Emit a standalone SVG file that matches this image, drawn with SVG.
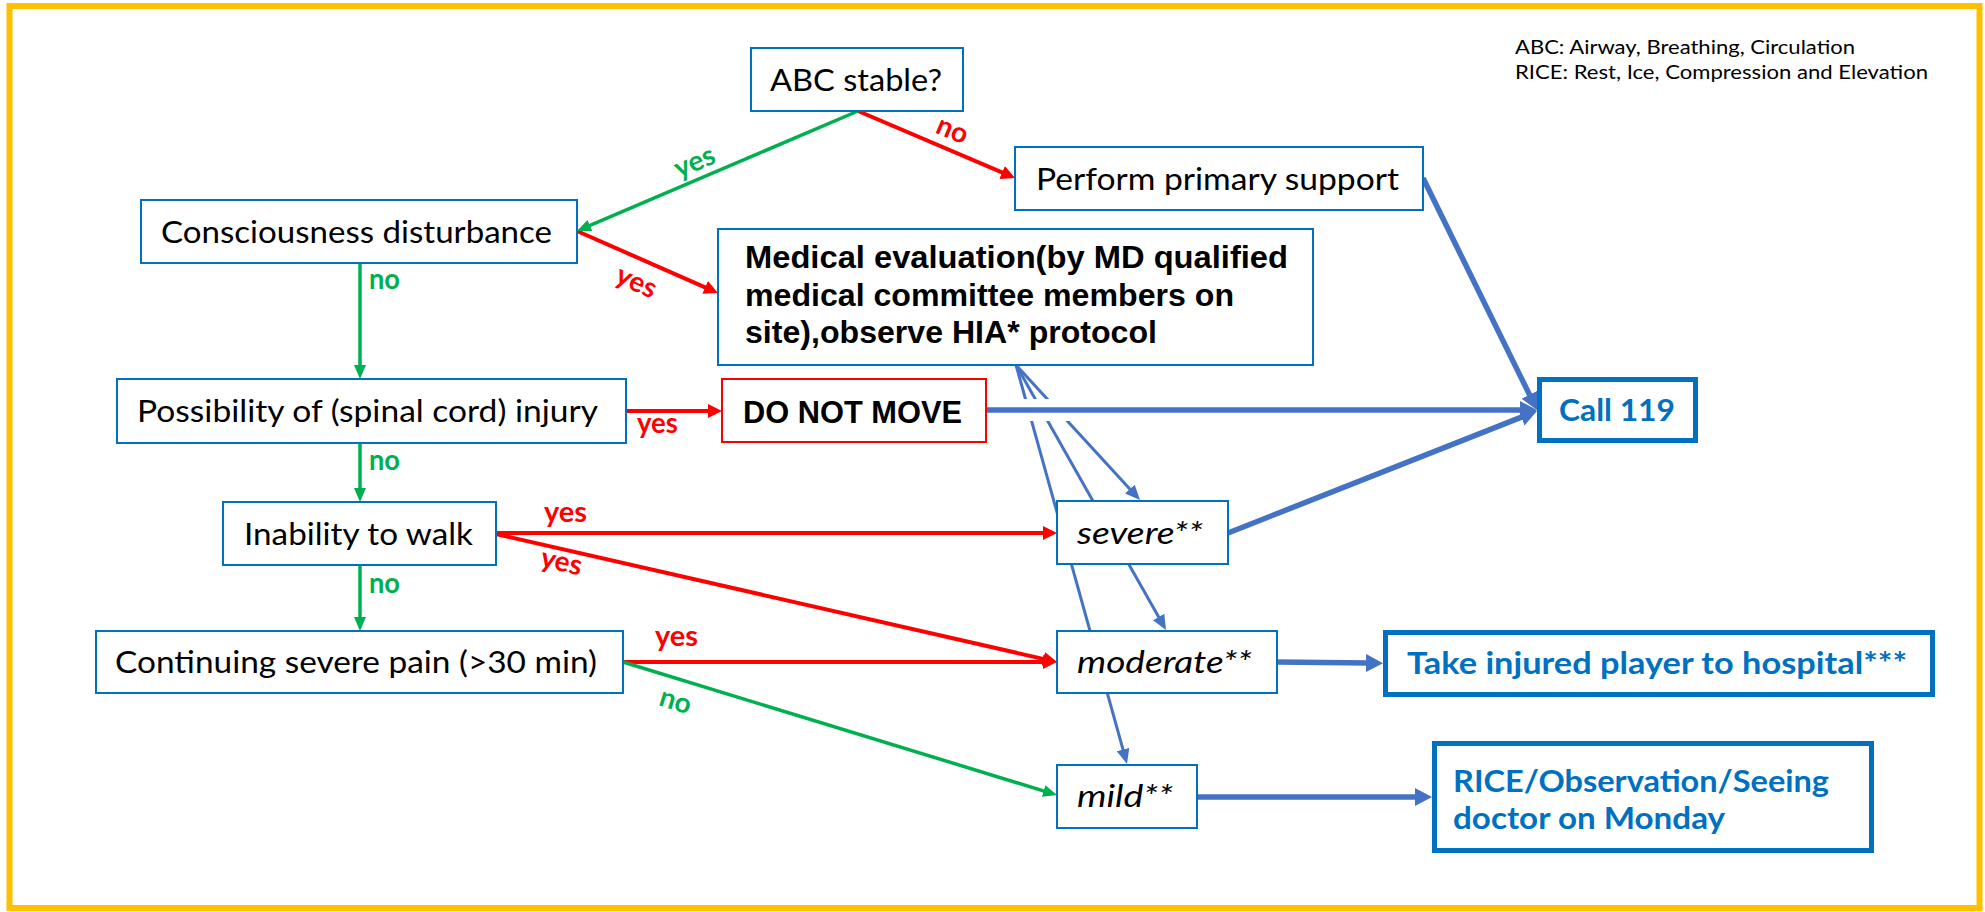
<svg xmlns="http://www.w3.org/2000/svg" width="1985" height="912" viewBox="0 0 1985 912">
<defs>
<style>
.box{fill:#fff;stroke:#0070C0;stroke-width:2}
.rbox{fill:#fff;stroke:#FF0000;stroke-width:2}
.tbox{fill:#fff;stroke:#0070C0;stroke-width:5}
.t{font-family:Lato,"Liberation Sans",sans-serif;font-size:31px;fill:#000}
.ti{font-family:Lato,"Liberation Sans",sans-serif;font-size:31px;font-style:italic;fill:#000}
.tb{font-family:"Liberation Sans","Noto Sans CJK JP",sans-serif;font-size:32px;font-weight:bold;fill:#000}
.tblue{font-family:Lato,"Liberation Sans",sans-serif;font-size:31px;font-weight:bold;fill:#0070C0}
.lg{font-family:Lato,"Liberation Sans",sans-serif;font-size:19.5px;fill:#000}
.lab{font-family:Lato,"Liberation Sans",sans-serif;font-size:28px;font-weight:bold}
.red{fill:#FF0000}
.grn{fill:#00B050}
.cr{stroke:#FF0000;stroke-width:4;fill:none}
.cg{stroke:#00B050;stroke-width:3.5;fill:none}
.cb{stroke:#4472C4;stroke-width:3;fill:none}
.cB{stroke:#4472C4;stroke-width:5.5;fill:none}
</style>
<marker id="aR" markerUnits="userSpaceOnUse" markerWidth="14" markerHeight="14" viewBox="0 0 14 14" refX="3" refY="7" orient="auto"><path d="M0,0 L14,7 L0,14 z" fill="#FF0000"/></marker>
<marker id="aG" markerUnits="userSpaceOnUse" markerWidth="14" markerHeight="12" viewBox="0 0 14 12" refX="3" refY="6" orient="auto"><path d="M0,0 L14,6 L0,12 z" fill="#00B050"/></marker>
<marker id="aB" markerUnits="userSpaceOnUse" markerWidth="15" markerHeight="13" viewBox="0 0 15 13" refX="3" refY="6.5" orient="auto"><path d="M0,0 L15,6.5 L0,13 z" fill="#4472C4"/></marker>
<marker id="aBB" markerUnits="userSpaceOnUse" markerWidth="17" markerHeight="18" viewBox="0 0 17 18" refX="3" refY="9" orient="auto"><path d="M0,0 L17,9 L0,18 z" fill="#4472C4"/></marker>
</defs>
<rect x="0" y="0" width="1985" height="912" fill="#fff"/>
<rect x="9.5" y="6" width="1970" height="902" fill="#fff" stroke="#FFC000" stroke-width="6"/>

<g id="legend">
<text class="lg" x="1515" y="54" textLength="340" lengthAdjust="spacingAndGlyphs">ABC: Airway, Breathing, Circulation</text>
<text class="lg" x="1515" y="79" textLength="413" lengthAdjust="spacingAndGlyphs">RICE: Rest, Ice, Compression and Elevation</text>
</g>

<g id="connectors">
<line class="cb" x1="1016" y1="365" x2="1131.9" y2="491.2" marker-end="url(#aB)"/>
<line class="cb" x1="1016" y1="365" x2="1160.1" y2="619.6" marker-end="url(#aB)"/>
<line class="cb" x1="1016" y1="365" x2="1123.8" y2="752.4" marker-end="url(#aB)"/>
<line x1="1000" y1="410" x2="1100" y2="410" stroke="#fff" stroke-width="22"/>
<line class="cB" x1="986" y1="410" x2="1523" y2="410" marker-end="url(#aBB)"/>
<line class="cB" x1="1423" y1="178" x2="1530.8" y2="397.4" marker-end="url(#aBB)"/>
<line class="cB" x1="1228" y1="533" x2="1524" y2="416.1" marker-end="url(#aBB)"/>
<line class="cB" x1="1277" y1="662" x2="1369" y2="663" marker-end="url(#aBB)"/>
<line class="cB" x1="1197" y1="797" x2="1418" y2="797" marker-end="url(#aBB)"/>
<line class="cr" x1="858" y1="111" x2="1004.9" y2="173.7" marker-end="url(#aR)"/>
<line class="cr" x1="577" y1="231" x2="707.9" y2="288.6" marker-end="url(#aR)"/>
<line class="cr" x1="626" y1="411" x2="711" y2="411" marker-end="url(#aR)"/>
<line class="cr" x1="496" y1="533" x2="1046" y2="533" marker-end="url(#aR)"/>
<line class="cr" x1="496" y1="534" x2="1046.3" y2="659.6" marker-end="url(#aR)"/>
<line class="cr" x1="623" y1="662" x2="1046" y2="662" marker-end="url(#aR)"/>
<line class="cg" x1="858" y1="111" x2="587.1" y2="226.7" marker-end="url(#aG)"/>
<line class="cg" x1="360" y1="263" x2="360" y2="368" marker-end="url(#aG)"/>
<line class="cg" x1="360" y1="443" x2="360" y2="491" marker-end="url(#aG)"/>
<line class="cg" x1="360" y1="565" x2="360" y2="620" marker-end="url(#aG)"/>
<line class="cg" x1="623" y1="662" x2="1046.5" y2="791.8" marker-end="url(#aG)"/>
<text class="lab grn" x="695" y="171" text-anchor="middle" transform="rotate(-23 695 163)">yes</text>
<text class="lab red" x="952" y="139" text-anchor="middle" transform="rotate(23 952 131)">no</text>
<text class="lab red" x="636" y="291" text-anchor="middle" transform="rotate(24 636 283)">yes</text>
<text class="lab grn" x="369" y="289" textLength="31" lengthAdjust="spacingAndGlyphs">no</text>
<text class="lab red" x="637" y="433" textLength="41" lengthAdjust="spacingAndGlyphs">yes</text>
<text class="lab grn" x="369" y="470" textLength="31" lengthAdjust="spacingAndGlyphs">no</text>
<text class="lab red" x="544" y="522" textLength="43" lengthAdjust="spacingAndGlyphs">yes</text>
<text class="lab red" x="561" y="571" text-anchor="middle" transform="rotate(13 561 564)">yes</text>
<text class="lab grn" x="369" y="593" textLength="31" lengthAdjust="spacingAndGlyphs">no</text>
<text class="lab red" x="655" y="646" textLength="43" lengthAdjust="spacingAndGlyphs">yes</text>
<text class="lab grn" x="675" y="710" text-anchor="middle" transform="rotate(17 675 703)">no</text>
</g>

<g id="abc">
<rect class="box" x="751" y="48" width="212" height="63"/>
<text class="t" x="770" y="91" textLength="172" lengthAdjust="spacingAndGlyphs">ABC stable?</text>
</g>
<g id="perform">
<rect class="box" x="1015" y="147" width="408" height="63"/>
<text class="t" x="1036" y="190" textLength="363" lengthAdjust="spacingAndGlyphs">Perform primary support</text>
</g>
<g id="consciousness">
<rect class="box" x="141" y="200" width="436" height="63"/>
<text class="t" x="161" y="243" textLength="391" lengthAdjust="spacingAndGlyphs">Consciousness disturbance</text>
</g>
<g id="medical">
<rect class="box" x="718" y="229" width="595" height="136"/>
<text class="tb" x="745" y="268" textLength="543" lengthAdjust="spacingAndGlyphs">Medical evaluation(by MD qualified</text>
<text class="tb" x="745" y="306" textLength="489" lengthAdjust="spacingAndGlyphs">medical committee members on</text>
<text class="tb" x="745" y="343" textLength="412" lengthAdjust="spacingAndGlyphs">site),observe HIA* protocol</text>
</g>
<g id="spinal">
<rect class="box" x="117" y="379" width="509" height="64"/>
<text class="t" x="137" y="422" textLength="461" lengthAdjust="spacingAndGlyphs">Possibility of (spinal cord) injury</text>
</g>
<g id="donotmove">
<rect class="rbox" x="722" y="379" width="264" height="63"/>
<text class="tb" x="743" y="423" textLength="219" lengthAdjust="spacingAndGlyphs">DO NOT MOVE</text>
</g>
<g id="call119">
<rect class="tbox" x="1539.5" y="379.5" width="156" height="61"/>
<text class="tblue" x="1559" y="421" textLength="116" lengthAdjust="spacingAndGlyphs">Call 119</text>
</g>
<g id="walk">
<rect class="box" x="223" y="502" width="273" height="63"/>
<text class="t" x="244" y="545" textLength="229" lengthAdjust="spacingAndGlyphs">Inability to walk</text>
</g>
<g id="severe">
<rect class="box" x="1057" y="501" width="171" height="63"/>
<text class="ti" x="1077" y="544" textLength="126" lengthAdjust="spacingAndGlyphs">severe**</text>
</g>
<g id="pain">
<rect class="box" x="96" y="631" width="527" height="62"/>
<text class="t" x="115" y="673" textLength="482" lengthAdjust="spacingAndGlyphs">Continuing severe pain (&gt;30 min)</text>
</g>
<g id="moderate">
<rect class="box" x="1057" y="631" width="220" height="62"/>
<text class="ti" x="1077" y="673" textLength="175" lengthAdjust="spacingAndGlyphs">moderate**</text>
</g>
<g id="hospital">
<rect class="tbox" x="1385.5" y="632.5" width="547" height="62"/>
<text class="tblue" x="1407" y="674" textLength="500" lengthAdjust="spacingAndGlyphs">Take injured player to hospital***</text>
</g>
<g id="mild">
<rect class="box" x="1057" y="765" width="140" height="63"/>
<text class="ti" x="1077" y="807" textLength="96" lengthAdjust="spacingAndGlyphs">mild**</text>
</g>
<g id="rice">
<rect class="tbox" x="1434.5" y="743.5" width="437" height="107"/>
<text class="tblue" x="1453" y="792" textLength="376" lengthAdjust="spacingAndGlyphs">RICE/Observation/Seeing</text>
<text class="tblue" x="1453" y="829" textLength="272" lengthAdjust="spacingAndGlyphs">doctor on Monday</text>
</g>
</svg>
